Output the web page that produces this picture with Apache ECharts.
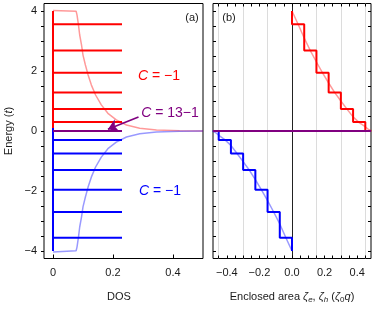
<!DOCTYPE html>
<html><head><meta charset="utf-8">
<script src="https://cdn.jsdelivr.net/npm/echarts@6/dist/echarts.min.js"></script>
<style>html,body{margin:0;padding:0;background:#fff}#c{width:374px;height:311px}</style>
</head><body><div id="c"></div>
<script>
// ---------------- data ----------------
const redLevels = [3.56, 2.68, 1.94, 1.28, 0.73, 0.30];
const blueLevels = [-3.56, -2.70, -1.96, -1.30, -0.75, -0.30];
const zeroLevel = 0;
const bandTop = 4, bandBottom = -4;
const redStemBottom = 0.1;       // red stem ends here
const blueStemTop = 0.1;         // blue stem starts here
const levelDOS = 0.23;           // drawn length of each level in DOS panel
const stepArea = 0.075;          // zeta0 q

// continuous DOS (panel a)
const dosRedX = [0, 0.077, 0.080, 0.085, 0.089, 0.095, 0.100, 0.108, 0.117, 0.128, 0.142, 0.161, 0.183, 0.211, 0.245, 0.289, 0.345, 0.422, 0.5];
const dosRedE = [4.02, 3.99, 3.87, 3.53, 3.20, 2.87, 2.53, 2.20, 1.87, 1.53, 1.20, 0.87, 0.59, 0.37, 0.20, 0.09, 0.03, 0.01, 0.0];
const dosBlueX = [0, 0.077, 0.080, 0.085, 0.089, 0.095, 0.100, 0.108, 0.117, 0.128, 0.142, 0.161, 0.183, 0.211, 0.245, 0.289, 0.345, 0.422, 0.5];
const dosBlueE = [-4.03, -3.99, -3.87, -3.53, -3.20, -2.87, -2.53, -2.20, -1.87, -1.53, -1.20, -0.87, -0.59, -0.37, -0.20, -0.09, -0.03, -0.01, 0.0];

// continuous enclosed area (panel b)
const areaRedX = [0, 0.0375, 0.075, 0.1125, 0.15, 0.1875, 0.225, 0.2625, 0.30, 0.3375, 0.375, 0.4125, 0.445, 0.47, 0.49];
const areaRedE = [4.0, 3.56, 3.10, 2.68, 2.30, 1.94, 1.60, 1.28, 1.00, 0.73, 0.47, 0.28, 0.16, 0.05, 0.0];
const areaBlueX = [0, -0.0375, -0.075, -0.1125, -0.15, -0.1875, -0.225, -0.2625, -0.30, -0.3375, -0.375, -0.4125, -0.445, -0.47, -0.49];
const areaBlueE = [-4.0, -3.56, -3.10, -2.70, -2.32, -1.96, -1.62, -1.30, -1.02, -0.75, -0.48, -0.29, -0.16, -0.05, 0.0];

const gridLinesB = [-0.45, -0.30, -0.15, 0.15, 0.30, 0.45];
const dosTicks = [0, 0.2, 0.4];
const energyLabelTicks = [-4, -2, 0, 2, 4];
const energyMinorTicks = [-4, -3.5, -3, -2.5, -2, -1.5, -1, -0.5, 0, 0.5, 1, 1.5, 2, 2.5, 3, 3.5, 4];
const areaLabelTicks = [-0.4, -0.2, 0, 0.2, 0.4];
const areaMinorTicks = [-0.45, -0.4, -0.35, -0.3, -0.25, -0.2, -0.15, -0.1, -0.05, 0, 0.05, 0.1, 0.15, 0.2, 0.25, 0.3, 0.35, 0.4, 0.45];
const arrowFrom = [0.285, 0.47];
const arrowTo = [0.183, 0.06];

// ---------------- build ----------------
const RED = '#ff0000', BLUE = '#0000ff', PURPLE = '#800080';
const PALE_RED = 'rgba(255,0,0,0.4)', PALE_BLUE = 'rgba(0,0,255,0.4)';
const FONT = 'Liberation Sans, Arial, sans-serif';
const minus = v => String(v).replace('-', '\u2212');

function zip(xs, ys) { return xs.map((x, i) => [x, ys[i]]); }
function seg(xi, yi, data, color, width, z) {
  return { type: 'line', xAxisIndex: xi, yAxisIndex: yi, data: data, showSymbol: false, symbol: 'none',
    lineStyle: { color: color, width: width }, z: z || 2, silent: true, animation: false, clip: true };
}
function stairs(levels, top, sign) {
  const pts = [[0, top]];
  levels.forEach((e, i) => { pts.push([sign * i * stepArea, e]); pts.push([sign * (i + 1) * stepArea, e]); });
  pts.push([sign * levels.length * stepArea, zeroLevel]);
  return pts;
}

const series = [];
// panel a
series.push(seg(0, 0, zip(dosRedX, dosRedE), PALE_RED, 1.5, 1));
series.push(seg(0, 0, zip(dosBlueX, dosBlueE), PALE_BLUE, 1.5, 1));
redLevels.forEach(e => series.push(seg(0, 0, [[0, e], [levelDOS, e]], RED, 2, 3)));
blueLevels.forEach(e => series.push(seg(0, 0, [[0, e], [levelDOS, e]], BLUE, 2, 3)));
series.push(seg(0, 0, [[0, bandTop], [0, redStemBottom]], RED, 2, 3));
series.push(seg(0, 0, [[0, blueStemTop], [0, bandBottom]], BLUE, 2, 4));
series.push(seg(0, 0, [[0, zeroLevel], [levelDOS, zeroLevel]], PURPLE, 2, 5));
// arrow
series.push({ type: 'line', xAxisIndex: 0, yAxisIndex: 0, data: [], silent: true, animation: false, z: 6,
  markLine: { z: 6, silent: true, animation: false, symbol: ['none', 'arrow'], symbolSize: 10, label: { show: false },
    lineStyle: { color: PURPLE, width: 1.6, type: 'solid' },
    data: [[{ coord: arrowFrom }, { coord: arrowTo }]] } });
// panel b
series.push({ type: 'line', xAxisIndex: 1, yAxisIndex: 1, data: [], silent: true, animation: false, z: 0,
  markLine: { z: 0, silent: true, animation: false, symbol: 'none', label: { show: false },
    data: gridLinesB.map(x => ({ xAxis: x, lineStyle: { color: '#dcdcdc', width: 1, type: 'solid' } }))
      .concat([{ xAxis: 0, lineStyle: { color: '#222', width: 1, type: 'solid' } }]) } });
series.push(seg(1, 1, zip(areaRedX, areaRedE), PALE_RED, 1.5, 1));
series.push(seg(1, 1, zip(areaBlueX, areaBlueE), PALE_BLUE, 1.5, 1));
series.push(seg(1, 1, stairs(redLevels, bandTop, 1), RED, 2, 3));
series.push(seg(1, 1, stairs(blueLevels, bandBottom, -1), BLUE, 2, 3));
series.push({ type: 'line', xAxisIndex: 1, yAxisIndex: 1, data: [], silent: true, animation: false, z: 5,
  markLine: { z: 5, silent: true, animation: false, symbol: 'none', label: { show: false },
    data: [{ yAxis: zeroLevel, lineStyle: { color: PURPLE, width: 2, type: 'solid' } }] } });

const tickStyle = { color: '#000', width: 1 };
const labelStyle = { color: '#1a1a1a', fontSize: 11, fontFamily: FONT };
const noLine = { show: false, onZero: false };
const chart = echarts.init(document.getElementById('c'), null, { renderer: 'canvas' });
chart.setOption({
  animation: false,
  grid: [
    { left: 44, top: 3.5, width: 159, height: 255, show: true, borderColor: '#000', borderWidth: 1, backgroundColor: 'transparent' },
    { left: 213, top: 3.5, width: 158, height: 255, show: true, borderColor: '#000', borderWidth: 1, backgroundColor: 'transparent' }
  ],
  xAxis: [
    { gridIndex: 0, type: 'value', position: 'bottom', min: -0.03, max: 0.5, axisLine: noLine, splitLine: { show: false },
      axisTick: { show: true, inside: true, length: 4, lineStyle: tickStyle, customValues: dosTicks },
      axisLabel: Object.assign({ margin: 9, customValues: dosTicks, formatter: v => minus(v) }, labelStyle) },
    { gridIndex: 1, type: 'value', position: 'bottom', min: -0.485, max: 0.485, axisLine: noLine, splitLine: { show: false },
      axisTick: { show: true, inside: true, length: 3, lineStyle: tickStyle, customValues: areaMinorTicks },
      axisLabel: Object.assign({ margin: 9, customValues: areaLabelTicks, formatter: v => minus(Number(v).toFixed(1)) }, labelStyle) },
    { gridIndex: 1, type: 'value', position: 'top', min: -0.485, max: 0.485, axisLine: noLine, splitLine: { show: false },
      axisTick: { show: true, inside: true, length: 3, lineStyle: tickStyle, customValues: areaMinorTicks },
      axisLabel: { show: false } }
  ],
  yAxis: [
    { gridIndex: 0, type: 'value', position: 'left', min: -4.25, max: 4.25, axisLine: noLine, splitLine: { show: false },
      axisTick: { show: true, inside: false, length: 3, lineStyle: tickStyle, customValues: energyMinorTicks },
      axisLabel: Object.assign({ margin: 7, customValues: energyLabelTicks, formatter: v => minus(v) }, labelStyle) },
    { gridIndex: 1, type: 'value', position: 'left', min: -4.25, max: 4.25, axisLine: noLine, splitLine: { show: false },
      axisTick: { show: true, inside: true, length: 3, lineStyle: tickStyle, customValues: energyMinorTicks },
      axisLabel: { show: false } },
    { gridIndex: 1, type: 'value', position: 'right', min: -4.25, max: 4.25, axisLine: noLine, splitLine: { show: false },
      axisTick: { show: true, inside: true, length: 3, lineStyle: tickStyle, customValues: energyMinorTicks },
      axisLabel: { show: false } }
  ],
  graphic: [
    { type: 'text', x: 9, y: 131, rotation: Math.PI / 2, silent: true,
      style: { text: '{n|Energy (}{i|t}{n|)}', align: 'center', verticalAlign: 'middle',
        rich: { n: { fontSize: 11, fontFamily: FONT, fill: '#1a1a1a' }, i: { fontSize: 11, fontFamily: FONT, fontStyle: 'italic', fill: '#1a1a1a' } } } },
    { type: 'text', x: 119, y: 297, silent: true,
      style: { text: 'DOS', font: '11px ' + FONT, fill: '#1a1a1a', align: 'center', verticalAlign: 'middle' } },
    { type: 'text', x: 292, y: 297, silent: true,
      style: { text: '{n|Enclosed area }{i|\u03b6}{s|e}{n|, }{i|\u03b6}{s|h}{n| (}{i|\u03b6}{z|0}{i|q}{n|)}', align: 'center', verticalAlign: 'middle',
        rich: {
          n: { fontSize: 11, fontFamily: FONT, fill: '#1a1a1a', lineHeight: 14 },
          i: { fontSize: 11, fontFamily: FONT, fontStyle: 'italic', fill: '#1a1a1a', lineHeight: 14 },
          s: { fontSize: 8, fontFamily: FONT, fontStyle: 'italic', fill: '#1a1a1a', lineHeight: 8, verticalAlign: 'bottom' },
          z: { fontSize: 8, fontFamily: FONT, fill: '#1a1a1a', lineHeight: 8, verticalAlign: 'bottom' } } } },
    { type: 'text', x: 192, y: 18, silent: true,
      style: { text: '(a)', font: '11px ' + FONT, fill: '#1a1a1a', align: 'center', verticalAlign: 'middle' } },
    { type: 'text', x: 229, y: 18, silent: true,
      style: { text: '(b)', font: '11px ' + FONT, fill: '#1a1a1a', align: 'center', verticalAlign: 'middle' } },
    { type: 'text', x: 159, y: 76, silent: true,
      style: { text: '{i|C}{n| = \u22121}', align: 'center', verticalAlign: 'middle',
        rich: { i: { fontSize: 14, fontFamily: FONT, fontStyle: 'italic', fill: RED }, n: { fontSize: 14, fontFamily: FONT, fill: RED } } } },
    { type: 'text', x: 170, y: 113, silent: true,
      style: { text: '{i|C}{n| = 13\u22121}', align: 'center', verticalAlign: 'middle',
        rich: { i: { fontSize: 14, fontFamily: FONT, fontStyle: 'italic', fill: PURPLE }, n: { fontSize: 14, fontFamily: FONT, fill: PURPLE } } } },
    { type: 'text', x: 160, y: 191, silent: true,
      style: { text: '{i|C}{n| = \u22121}', align: 'center', verticalAlign: 'middle',
        rich: { i: { fontSize: 14, fontFamily: FONT, fontStyle: 'italic', fill: BLUE }, n: { fontSize: 14, fontFamily: FONT, fill: BLUE } } } }
  ],
  series: series
});
</script></body></html>
